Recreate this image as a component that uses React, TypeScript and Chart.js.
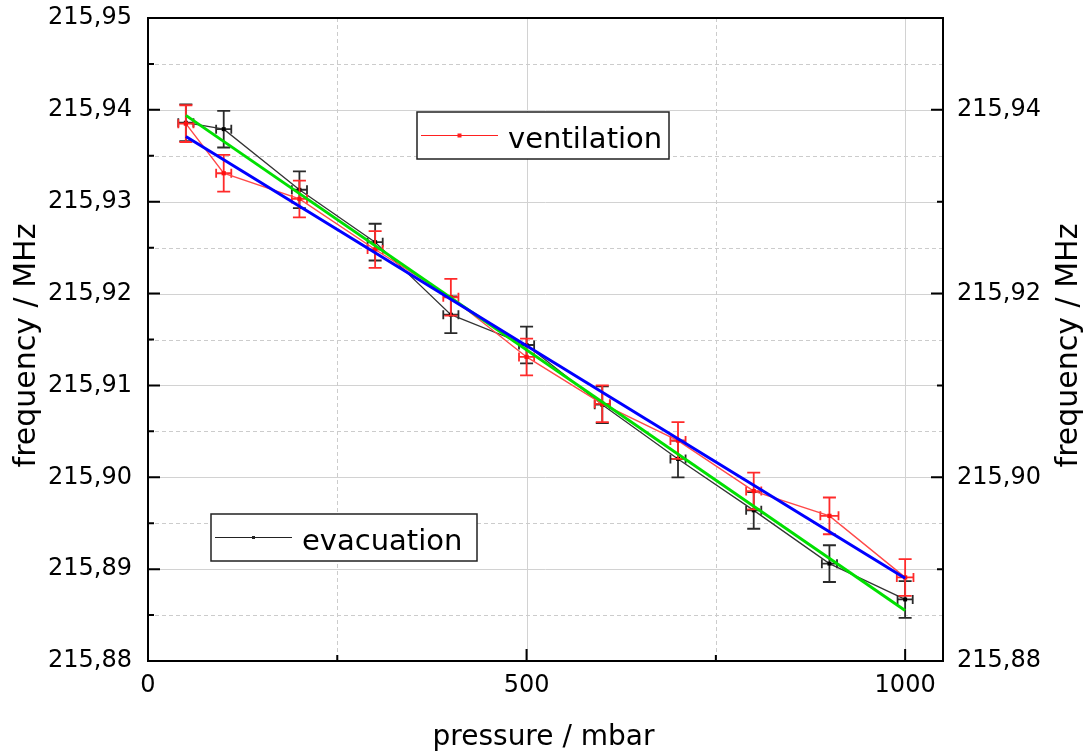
import React, { useEffect, useRef } from 'react';
import { Chart, registerables } from 'chart.js';

Chart.register(...registerables);

// ---------- data ----------
const pressure = [50, 100, 200, 300, 400, 500, 600, 700, 800, 900, 1000];
const evacuation = [215.9386, 215.9379, 215.9313, 215.9256, 215.9177, 215.9144, 215.9079, 215.902, 215.8964, 215.8906, 215.8867];
const ventilation = [215.9385, 215.9331, 215.9303, 215.9248, 215.9196, 215.9131, 215.908, 215.904, 215.8985, 215.8958, 215.8891];
const evacuationYErr = [0.002, 0.002, 0.002, 0.002, 0.002, 0.002, 0.002, 0.002, 0.002, 0.002, 0.002];
const ventilationYErr = [0.002, 0.002, 0.002, 0.002, 0.002, 0.002, 0.002, 0.002, 0.002, 0.002, 0.002];
const evacuationXErr = [10, 10, 10, 10, 10, 10, 10, 10, 10, 10, 10];
const ventilationXErr = [10, 10, 10, 10, 10, 10, 10, 10, 10, 12, 11];
const fitX = [50, 1000];
const evacuationFit = [215.9394, 215.8855];
const ventilationFit = [215.9371, 215.889];

const xTicks = [0, 500, 1000];
const xMinorTicks = [250, 750];
const yLeftTicks = [215.88, 215.89, 215.9, 215.91, 215.92, 215.93, 215.94, 215.95];
const yLeftMinor = [215.885, 215.895, 215.905, 215.915, 215.925, 215.935, 215.945];
const yRightTicks = [215.88, 215.9, 215.92, 215.94];
const yRightMinor = [215.89, 215.91, 215.93];
const yGridSolid = [215.89, 215.9, 215.91, 215.92, 215.93, 215.94];
const yGridDashed = [215.885, 215.895, 215.905, 215.915, 215.925, 215.935, 215.945];
const xGridSolid = [500, 1000];
const xGridDashed = [250, 750];

const FONT = 'DejaVu Sans';
const fmt = (v: number) => v.toFixed(2).replace('.', ',');

const RED_LINE = '#ff4a4a';
const RED_ERR = '#ff2a2a';
const BLACK_LINE = '#333333';
const BLACK_ERR = '#2a2a2a';

function drawErrors(ctx: CanvasRenderingContext2D, xs: number[], ys: number[], xe: number[], ye: number[], sx: any, sy: any, color: string) {
  ctx.save();
  ctx.strokeStyle = color;
  ctx.lineWidth = 1.8;
  for (let i = 0; i < xs.length; i++) {
    const px = sx.getPixelForValue(xs[i]);
    const py = sy.getPixelForValue(ys[i]);
    const t = sy.getPixelForValue(ys[i] + ye[i]);
    const b = sy.getPixelForValue(ys[i] - ye[i]);
    const l = sx.getPixelForValue(xs[i] - xe[i]);
    const r = sx.getPixelForValue(xs[i] + xe[i]);
    ctx.beginPath();
    ctx.moveTo(px, t); ctx.lineTo(px, b);
    ctx.moveTo(px - 6.5, t); ctx.lineTo(px + 6.5, t);
    ctx.moveTo(px - 6.5, b); ctx.lineTo(px + 6.5, b);
    ctx.moveTo(l, py); ctx.lineTo(r, py);
    ctx.moveTo(l, py - 4.5); ctx.lineTo(l, py + 4.5);
    ctx.moveTo(r, py - 4.5); ctx.lineTo(r, py + 4.5);
    ctx.stroke();
  }
  ctx.restore();
}

const customPlugin = {
  id: 'originLook',
  beforeDatasetsDraw(chart: any) {
    const { ctx, chartArea, scales } = chart;
    const { left, right, top, bottom } = chartArea;
    const sx = scales.x, sy = scales.y;
    ctx.save();
    ctx.lineWidth = 1;
    ctx.strokeStyle = '#d2d2d2';
    ctx.setLineDash([]);
    ctx.beginPath();
    yGridSolid.forEach((v) => { const p = Math.round(sy.getPixelForValue(v)) + 0.5; ctx.moveTo(left, p); ctx.lineTo(right, p); });
    xGridSolid.forEach((v) => { const p = Math.round(sx.getPixelForValue(v)) + 0.5; ctx.moveTo(p, top); ctx.lineTo(p, bottom); });
    ctx.stroke();
    ctx.strokeStyle = '#cccccc';
    ctx.setLineDash([4, 3]);
    ctx.beginPath();
    yGridDashed.forEach((v) => { const p = Math.round(sy.getPixelForValue(v)) + 0.5; ctx.moveTo(left, p); ctx.lineTo(right, p); });
    xGridDashed.forEach((v) => { const p = Math.round(sx.getPixelForValue(v)) + 0.5; ctx.moveTo(p, top); ctx.lineTo(p, bottom); });
    ctx.stroke();
    ctx.restore();
  },
  beforeDatasetDraw(chart: any, args: any) {
    const { ctx, scales } = chart;
    const ds = chart.data.datasets[args.index];
    if (ds.label === 'evacuation') {
      drawErrors(ctx, pressure, evacuation, evacuationXErr, evacuationYErr, scales.x, scales.y, BLACK_ERR);
    } else if (ds.label === 'ventilation') {
      drawErrors(ctx, pressure, ventilation, ventilationXErr, ventilationYErr, scales.x, scales.y, RED_ERR);
    }
  },
  afterDatasetsDraw(chart: any) {
    const { ctx, chartArea, scales } = chart;
    const { left, right, top, bottom } = chartArea;
    const sx = scales.x, sy = scales.y;
    ctx.save();
    ctx.strokeStyle = '#000';
    ctx.lineWidth = 2;
    ctx.setLineDash([]);
    ctx.beginPath();
    const MAJ = 12, MIN = 6;
    yLeftTicks.forEach((v) => { const p = sy.getPixelForValue(v); ctx.moveTo(left, p); ctx.lineTo(left + MAJ, p); });
    yLeftMinor.forEach((v) => { const p = sy.getPixelForValue(v); ctx.moveTo(left, p); ctx.lineTo(left + MIN, p); });
    yRightTicks.forEach((v) => { const p = sy.getPixelForValue(v); ctx.moveTo(right, p); ctx.lineTo(right - MAJ, p); });
    yRightMinor.forEach((v) => { const p = sy.getPixelForValue(v); ctx.moveTo(right, p); ctx.lineTo(right - MIN, p); });
    xTicks.forEach((v) => { const p = sx.getPixelForValue(v); ctx.moveTo(p, bottom); ctx.lineTo(p, bottom - MAJ); });
    xMinorTicks.forEach((v) => { const p = sx.getPixelForValue(v); ctx.moveTo(p, bottom); ctx.lineTo(p, bottom - MIN); });
    ctx.stroke();
    ctx.strokeRect(left, top, right - left, bottom - top);
    ctx.restore();
  },
  afterDraw(chart: any) {
    const { ctx, chartArea } = chart;
    const { left, right, top, bottom } = chartArea;
    ctx.save();
    ctx.fillStyle = '#000';
    ctx.font = `28px "${FONT}"`;
    ctx.textAlign = 'center';
    ctx.textBaseline = 'alphabetic';
    ctx.fillText('pressure / mbar', (left + right) / 2 - 2, 745);
    ctx.font = `30px "${FONT}"`;
    const midY = (top + bottom) / 2 + 6;
    ctx.save();
    ctx.translate(35, midY);
    ctx.rotate(-Math.PI / 2);
    ctx.fillText('frequency / MHz', 0, 0);
    ctx.restore();
    ctx.save();
    ctx.translate(1077, midY);
    ctx.rotate(-Math.PI / 2);
    ctx.fillText('frequency / MHz', 0, 0);
    ctx.restore();

    const legend = (bx: number, by: number, bw: number, bh: number, color: string, label: string, msize: number) => {
      ctx.save();
      ctx.fillStyle = '#fff';
      ctx.fillRect(bx, by, bw, bh);
      ctx.strokeStyle = '#222';
      ctx.lineWidth = 1.5;
      ctx.strokeRect(bx, by, bw, bh);
      const ly = by + bh / 2;
      ctx.strokeStyle = color;
      ctx.lineWidth = 1.2;
      ctx.beginPath();
      ctx.moveTo(bx + 4, ly); ctx.lineTo(bx + 81, ly);
      ctx.stroke();
      ctx.fillStyle = color;
      ctx.fillRect(bx + 42.5 - msize / 2, ly - msize / 2, msize, msize);
      ctx.fillStyle = '#000';
      ctx.font = `29px "${FONT}"`;
      ctx.textAlign = 'left';
      ctx.textBaseline = 'alphabetic';
      ctx.fillText(label, bx + 91, ly + 12);
      ctx.restore();
    };
    legend(left + 269, top + 94, 252, 47, '#ff2020', 'ventilation', 4);
    legend(left + 63, top + 496, 266, 47, '#222', 'evacuation', 3);
    ctx.restore();
  },
};

export default function App() {
  const ref = useRef<HTMLCanvasElement | null>(null);
  useEffect(() => {
    document.body.style.margin = '0';
    const canvas = ref.current;
    if (!canvas) return;
    const tickFont = { family: FONT, size: 24 };
    const chart = new Chart(canvas, {
      type: 'scatter',
      data: {
        datasets: [
          {
            label: 'ventilation fit',
            data: fitX.map((x, i) => ({ x, y: ventilationFit[i] })),
            showLine: true,
            borderColor: '#0000ff',
            borderWidth: 3,
            pointRadius: 0,
            order: 0,
          },
          {
            label: 'evacuation fit',
            data: fitX.map((x, i) => ({ x, y: evacuationFit[i] })),
            showLine: true,
            borderColor: '#00e000',
            borderWidth: 3,
            pointRadius: 0,
            order: 1,
          },
          {
            label: 'ventilation',
            data: pressure.map((x, i) => ({ x, y: ventilation[i] })),
            showLine: true,
            borderColor: RED_LINE,
            borderWidth: 1.4,
            pointStyle: 'rect',
            pointRadius: 3,
            pointBackgroundColor: '#ff1010',
            pointBorderWidth: 0,
            order: 2,
          },
          {
            label: 'evacuation',
            data: pressure.map((x, i) => ({ x, y: evacuation[i] })),
            showLine: true,
            borderColor: BLACK_LINE,
            borderWidth: 1.3,
            pointStyle: 'rect',
            pointRadius: 2.8,
            pointBackgroundColor: '#000',
            pointBorderWidth: 0,
            order: 3,
          },
        ],
      },
      options: {
        responsive: false,
        animation: false,
        devicePixelRatio: 1,
        layout: { padding: { top: 18, left: 0, right: 0, bottom: 0 } },
        plugins: { legend: { display: false }, tooltip: { enabled: false }, title: { display: false } },
        scales: {
          x: {
            type: 'linear',
            position: 'bottom',
            min: 0,
            max: 1050,
            afterBuildTicks: (s: any) => { s.ticks = xTicks.map((v) => ({ value: v })); },
            afterFit: (s: any) => { s.height = 91; s.paddingLeft = 0; s.paddingRight = 0; },
            grid: { display: false, drawTicks: false, tickLength: 0 },
            border: { display: false },
            ticks: { font: tickFont, color: '#000', padding: 10, maxRotation: 0, autoSkip: false, callback: (v: any) => String(v) },
          },
          y: {
            type: 'linear',
            position: 'left',
            min: 215.88,
            max: 215.95,
            afterBuildTicks: (s: any) => { s.ticks = yLeftTicks.map((v) => ({ value: v })); },
            afterFit: (s: any) => { s.width = 148; s.paddingTop = 0; s.paddingBottom = 0; },
            grid: { display: false, drawTicks: false, tickLength: 0 },
            border: { display: false },
            ticks: { font: tickFont, color: '#000', padding: 16, autoSkip: false, callback: (v: any) => fmt(Number(v)) },
          },
          y2: {
            type: 'linear',
            position: 'right',
            display: true,
            min: 215.88,
            max: 215.95,
            afterBuildTicks: (s: any) => { s.ticks = yRightTicks.map((v) => ({ value: v })); },
            afterFit: (s: any) => { s.width = 144; s.paddingTop = 0; s.paddingBottom = 0; },
            grid: { display: false, drawTicks: false, tickLength: 0 },
            border: { display: false },
            ticks: { font: tickFont, color: '#000', padding: 14, autoSkip: false, callback: (v: any) => fmt(Number(v)) },
          },
        },
      } as any,
      plugins: [customPlugin as any],
    });
    return () => chart.destroy();
  }, []);
  return (
    <div style={{ position: 'absolute', left: 0, top: 0, width: 1087, height: 752, background: '#fff' }}>
      <canvas ref={ref} width={1087} height={752} style={{ display: 'block' }} />
    </div>
  );
}
